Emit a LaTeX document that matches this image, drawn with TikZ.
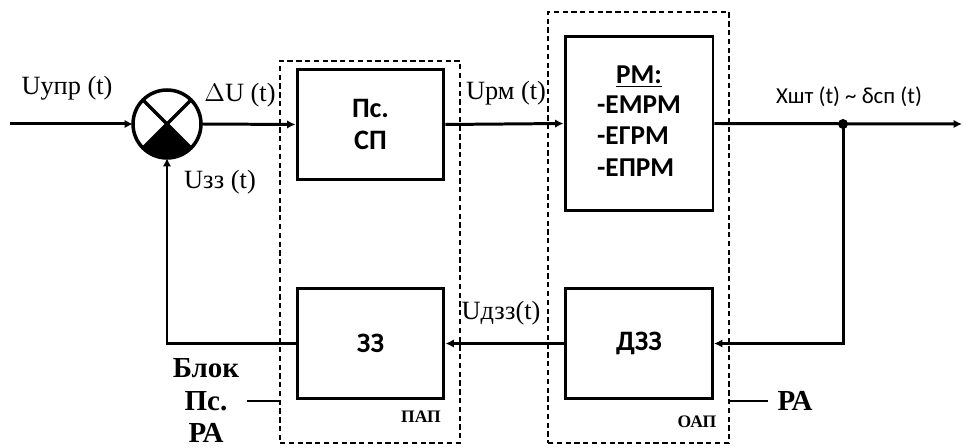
\documentclass[tikz,border=0pt]{standalone}
\usepackage{fontspec}
\setmainfont{Liberation Serif}
\newfontfamily\boxfont{Carlito}
\usetikzlibrary{arrows.meta}

\tikzset{
  blk/.style={draw,line width=1.7pt,minimum width=2.94cm,minimum height=2.2cm,font=\boxfont\bfseries\fontsize{16}{18.5}\selectfont,align=center},
  grp/.style={draw,dashed,line width=0.8pt,dash pattern=on 3pt off 2pt},
  lbl/.style={font=\fontsize{15}{17}\selectfont,inner sep=0pt},
  dot/.style={circle,fill,inner sep=0pt,minimum size=0.2cm}
}

\begin{document}
\begin{tikzpicture}[x=0.02cm,y=-0.02cm,line width=1.7pt,>={Latex[length=1.7mm,width=1.7mm]}]
  \useasboundingbox (0,0) rectangle (966,448);
  % пунктирные области ПАП и ОАП
  \node[grp,minimum width=3.6cm,minimum height=7.64cm] (pap) at (370,252){};
  \node[grp,minimum width=3.62cm,minimum height=8.62cm] (oap) at (638.5,227.5){};
  % сумматор
  \node[draw,circle,line width=2pt,outer sep=0pt,minimum size=1.36cm] (sum) at (167,124){};
  \fill (sum.center) -- (sum.-45) arc[start angle=-45,end angle=-135,radius=0.68cm] -- cycle;
  \draw[line width=2pt] (sum.45) -- (sum.-135) (sum.135) -- (sum.-45);
  % блоки
  \node[blk] (sp) at (370.5,124.5){Пс.\\СП};
  \node[blk,minimum width=2.96cm,minimum height=3.5cm,font=\boxfont\bfseries\fontsize{15.5}{18}\selectfont] (rm) at (639,123.5){%
    \begin{tabular}{@{}l@{}}\multicolumn{1}{c}{\underline{РМ:}}\\[-1pt]-ЕМРМ\\-ЕГРМ\\-ЕПРМ\end{tabular}};
  \node[blk] (dzz) at (639,343.5){ДЗЗ};
  \node[blk] (zz) at (370.5,343.5){ЗЗ};
  \coordinate (in) at (10,124);
  \coordinate (out) at (962,124);
  \node[dot] (j) at (843,124){};
  % связи
  \draw[->] (in) -- (sum.west);
  \draw[->] (sum.east) -- (sp.west);
  \draw[->] (sp.east) -- (rm.west);
  \draw[->] (rm.east) -- (out);
  \draw[->] (j.center) |- (dzz.east);
  \draw[->] (dzz.west) -- (zz.east);
  \draw[->] (zz.west) -| (sum.south);
  % подписи сигналов
  \node[lbl] (uupr) at (67,88){Uупр (t)};
  \node[lbl] (du) at (240,95){$\Delta$U (t)};
  \node[lbl] (uzz) at (220,182){Uзз (t)};
  \node[lbl] (urm) at (506,93){Uрм (t)};
  \node[lbl] (udzz) at (501,313){Uдзз(t)};
  \node[lbl,font=\boxfont\fontsize{13}{15}\selectfont] (xsht) at (849,97){Xшт (t) \textasciitilde{} δсп (t)};
  % названия областей
  \node[font=\bfseries\fontsize{10}{12}\selectfont,inner sep=0pt] (paplbl) at (421,417){ПАП};
  \node[font=\bfseries\fontsize{10}{12}\selectfont,inner sep=0pt] (oaplbl) at (697,422){ОАП};
  \node[font=\bfseries\fontsize{16.5}{18.5}\selectfont,align=center,inner sep=0pt] (blok) at (206,401){Блок\\Пс.\\РА};
  \node[font=\bfseries\fontsize{16.5}{19}\selectfont,inner sep=0pt] (ra) at (795,401){РА};
  \draw[line width=0.6pt] (blok.east) ++(6,0) coordinate (b1) -- (b1 -| pap.west);
  \draw[line width=0.6pt] (ra.west) ++(-8,0) coordinate (r1) -- (r1 -| oap.east);
\end{tikzpicture}
\end{document}
